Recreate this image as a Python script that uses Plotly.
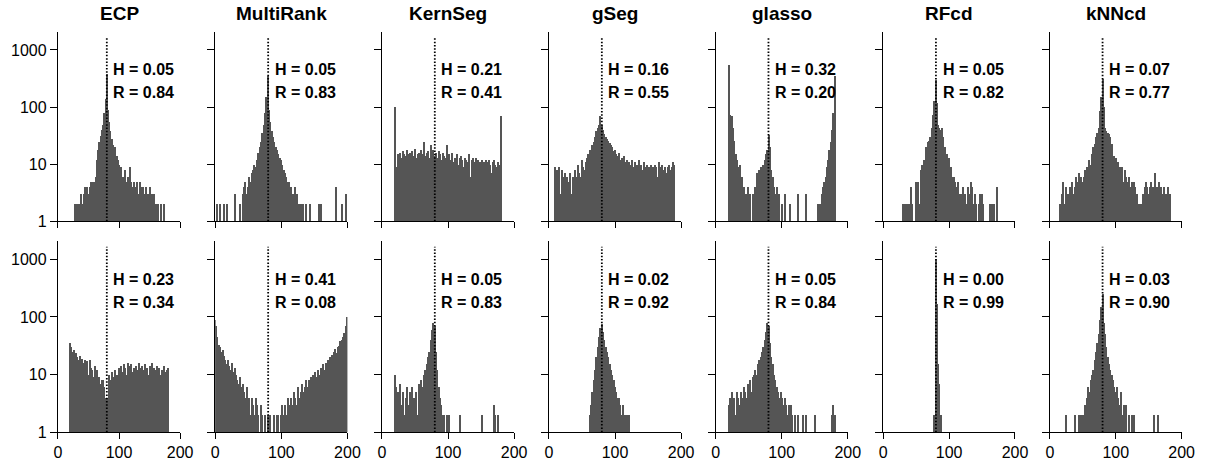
import plotly.graph_objects as go

# ---------------- data ----------------
methods = ["ECP", "MultiRank", "KernSeg", "gSeg", "glasso", "RFcd", "kNNcd"]
x_bins = list(range(0, 201, 2))          # estimated change-point locations (bins of width 2)
true_cp = 80

H_top = ["0.05", "0.05", "0.21", "0.16", "0.32", "0.05", "0.07"]
R_top = ["0.84", "0.83", "0.41", "0.55", "0.20", "0.82", "0.77"]
H_bot = ["0.23", "0.41", "0.05", "0.02", "0.05", "0.00", "0.03"]
R_bot = ["0.34", "0.08", "0.83", "0.92", "0.84", "0.99", "0.90"]

ecp_top = ([0] * 10 +
           [0, 0, 0, 0, 2, 0, 2, 2, 2, 3] +
           [2, 3, 4, 3, 4, 3, 4, 5, 4, 5] +
           [5, 6, 12, 18, 25, 31, 40, 50, 80, 140] +
           [390, 90, 55, 38, 28, 22, 18, 20, 14, 12] +
           [10, 7, 9, 6, 5, 8, 5, 6, 4, 9] +
           [5, 4, 5, 4, 3, 5, 3, 5, 4, 3] +
           [4, 3, 4, 2, 3, 4, 2, 3, 2, 3] +
           [2, 2, 2, 0, 2, 0, 0, 2, 0, 0] +
           [0] * 10 + [0])
multirank_top = ([0, 0, 2, 0, 2, 0, 0, 2, 0, 2] +
                 [0, 0, 0, 0, 0, 3, 0, 0, 0, 2] +
                 [0, 3, 4, 5, 3, 4, 6, 5, 7, 8] +
                 [10, 9, 12, 16, 20, 25, 35, 50, 80, 150] +
                 [360, 90, 55, 38, 30, 25, 20, 18, 15, 13] +
                 [12, 10, 8, 7, 6, 5, 5, 4, 4, 3] +
                 [3, 4, 3, 2, 2, 2, 0, 2, 0, 2] +
                 [0, 0, 2, 0, 0, 0, 0, 0, 0, 2] +
                 [2, 0, 0, 0, 0, 0, 0, 0, 0, 0] +
                 [0, 0, 4, 0, 0, 0, 2, 0, 0, 3] + [0])
kernseg_top = ([0] * 10 +
               [100, 9, 15, 14, 16, 13, 17, 15, 14, 18] +
               [15, 16, 9, 17, 14, 19, 13, 15, 16, 14] +
               [18, 15, 25, 14, 16, 17, 13, 22, 15, 18] +
               [14, 16, 13, 17, 15, 12, 16, 14, 13, 22] +
               [14, 15, 12, 16, 11, 13, 12, 15, 10, 13] +
               [14, 12, 9, 13, 12, 11, 15, 6, 12, 13] +
               [11, 13, 10, 12, 11, 8, 12, 11, 10, 12] +
               [11, 12, 10, 7, 11, 12, 10, 9, 11, 10] +
               [70, 0, 0, 0, 0, 0, 0, 0, 0, 0] + [0])
gseg_top = ([0, 0, 0, 0, 0, 9, 8, 5, 9, 3] +
            [8, 6, 7, 2, 6, 5, 7, 3, 6, 5] +
            [8, 6, 10, 7, 6, 12, 9, 8, 11, 13] +
            [15, 18, 16, 22, 25, 30, 38, 44, 50, 70] +
            [50, 40, 34, 30, 28, 26, 24, 22, 20, 17] +
            [18, 15, 14, 16, 12, 13, 12, 14, 11, 12] +
            [5, 11, 10, 12, 9, 11, 7, 10, 12, 9] +
            [10, 8, 11, 9, 10, 5, 9, 10, 8, 9] +
            [10, 9, 6, 11, 8, 9, 10, 8, 9, 7] +
            [9, 10, 8, 9, 11, 10, 0, 0, 0, 0] + [0])
glasso_top = ([0] * 10 +
              [560, 75, 70, 44, 26, 15, 12, 9, 10, 6] +
              [6, 4, 2, 3, 4, 2, 3, 0, 3, 2] +
              [4, 7, 3, 8, 9, 5, 10, 12, 15, 18] +
              [33, 20, 8, 6, 4, 3, 4, 2, 3, 0] +
              [2, 0, 3, 0, 0, 0, 2, 0, 0, 0] +
              [0, 0, 3, 0, 0, 0, 0, 0, 3, 0] +
              [0, 0, 0, 0, 0, 0, 0, 2, 2, 2] +
              [3, 4, 5, 6, 9, 12, 18, 25, 40, 80] +
              [360, 0, 0, 0, 0, 0, 0, 0, 0, 0] + [0])
rfcd_top = ([0] * 10 +
            [0, 0, 0, 0, 0, 2, 0, 2, 2, 0] +
            [2, 4, 2, 0, 0, 5, 4, 5, 2, 8] +
            [10, 12, 11, 20, 25, 26, 30, 44, 75, 130] +
            [300, 120, 50, 44, 40, 44, 30, 20, 15, 15] +
            [13, 8, 9, 6, 6, 5, 4, 5, 3, 3] +
            [2, 4, 3, 2, 0, 4, 3, 5, 4, 2] +
            [3, 2, 0, 2, 3, 3, 2, 0, 0, 0] +
            [0, 2, 0, 2, 2, 0, 0, 4, 0, 0] +
            [0] * 10 + [0])
knncd_top = ([0, 0, 0, 0, 0, 0, 0, 0, 2, 3] +
             [5, 2, 4, 2, 3, 4, 2, 5, 3, 4] +
             [6, 5, 7, 4, 6, 5, 6, 8, 9, 7] +
             [12, 10, 15, 20, 23, 30, 35, 44, 85, 150] +
             [320, 100, 44, 38, 36, 34, 30, 23, 12, 14] +
             [13, 9, 11, 9, 7, 9, 5, 8, 6, 5] +
             [6, 4, 5, 3, 5, 4, 3, 0, 2, 2] +
             [0, 3, 4, 5, 4, 3, 4, 5, 4, 3] +
             [7, 4, 3, 5, 4, 3, 3, 4, 3, 2] +
             [4, 3, 0, 0, 0, 0, 0, 0, 0, 0] + [0])

ecp_bot = ([0] * 10 +
           [35, 30, 25, 27, 22, 24, 20, 18, 21, 17] +
           [19, 16, 18, 15, 17, 10, 18, 13, 12, 9] +
           [14, 10, 12, 8, 9, 7, 8, 8, 6, 4] +
           [4, 2, 10, 8, 11, 7, 9, 12, 10, 8] +
           [13, 12, 14, 11, 15, 13, 10, 16, 12, 14] +
           [15, 11, 13, 6, 14, 12, 16, 11, 13, 14] +
           [12, 15, 11, 13, 10, 14, 12, 16, 9, 13] +
           [12, 14, 11, 13, 10, 12, 8, 14, 11, 12] +
           [13, 0, 0, 0, 0, 0, 0, 0, 0, 0] + [0])
multirank_bot = ([90, 70, 45, 33, 30, 25, 27, 21, 18, 15] +
                 [18, 14, 12, 16, 11, 13, 10, 8, 7, 9] +
                 [6, 7, 5, 4, 6, 3, 4, 2, 4, 3] +
                 [2, 4, 3, 2, 0, 3, 2, 0, 2, 0] +
                 [2, 0, 2, 0, 0, 2, 0, 2, 2, 0] +
                 [2, 3, 2, 3, 2, 4, 3, 2, 4, 3] +
                 [5, 4, 3, 6, 4, 5, 7, 5, 6, 8] +
                 [6, 8, 7, 9, 10, 8, 11, 9, 12, 10] +
                 [13, 11, 15, 12, 16, 14, 18, 20, 17, 22] +
                 [25, 28, 24, 30, 32, 38, 40, 45, 52, 70] + [100])
kernseg_bot = ([0] * 10 +
               [10, 6, 5, 2, 7, 3, 5, 2, 4, 6] +
               [3, 5, 2, 6, 4, 3, 5, 2, 7, 5] +
               [8, 6, 10, 12, 15, 20, 25, 40, 60, 80] +
               [70, 25, 12, 6, 4, 3, 2, 2, 0, 2] +
               [2, 2, 0, 0, 0, 0, 0, 0, 0, 2] +
               [0] * 10 +
               [0, 0, 0, 0, 0, 0, 2, 0, 0, 0] +
               [0, 0, 0, 0, 0, 3, 2, 0, 2, 0] +
               [0] * 10 + [0])
gseg_bot = ([0] * 30 +
            [0, 2, 3, 5, 8, 12, 20, 30, 45, 65] +
            [75, 55, 40, 30, 25, 20, 15, 12, 10, 8] +
            [6, 5, 4, 4, 3, 2, 3, 2, 2, 2] +
            [2, 2, 0, 0, 0, 0, 0, 0, 0, 0] +
            [0] * 40 + [0])
glasso_bot = ([0] * 10 +
              [3, 4, 5, 3, 4, 2, 5, 4, 3, 5] +
              [4, 6, 5, 4, 7, 6, 8, 5, 9, 10] +
              [12, 10, 15, 18, 20, 25, 30, 40, 55, 80] +
              [70, 35, 20, 15, 10, 8, 6, 5, 4, 5] +
              [4, 3, 4, 3, 2, 3, 2, 3, 2, 0] +
              [2, 0, 2, 0, 0, 0, 2, 0, 2, 0] +
              [0, 0, 0, 0, 0, 2, 0, 0, 0, 0] +
              [0, 0, 0, 0, 0, 0, 0, 0, 2, 3] +
              [2, 0, 0, 0, 0, 0, 0, 0, 0, 0] + [0])
rfcd_bot = ([0] * 30 +
            [0, 0, 0, 0, 0, 0, 0, 0, 0, 2] +
            [1000, 166, 15, 7, 2, 0, 0, 0, 0, 0] +
            [0] * 60 + [0])
knncd_bot = ([0] * 10 +
             [0, 0, 2, 0, 0, 0, 0, 0, 0, 2] +
             [0, 0, 2, 0, 2, 2, 0, 3, 4, 6] +
             [5, 8, 10, 12, 18, 25, 35, 50, 90, 150] +
             [250, 80, 50, 30, 20, 15, 12, 10, 8, 6] +
             [5, 6, 4, 3, 5, 2, 3, 2, 3, 0] +
             [2, 0, 2, 0, 2, 0, 0, 0, 0, 0] +
             [0, 0, 0, 0, 0, 0, 0, 0, 0, 2] +
             [0, 0, 2, 0, 0, 0, 0, 0, 0, 0] +
             [0] * 10 + [0])

counts_top = [ecp_top, multirank_top, kernseg_top, gseg_top, glasso_top, rfcd_top, knncd_top]
counts_bot = [ecp_bot, multirank_bot, kernseg_bot, gseg_bot, glasso_bot, rfcd_bot, knncd_bot]

# ---------------- layout ----------------
W, HGT = 1217, 466
x_px = [(54.7, 178.6), (214.3, 348.3), (383.3, 517.3), (552.7, 686.7),
        (721.7, 855.7), (891.7, 1025.3), (1060.7, 1194.3)]
y_px = [(32.3, 225.7), (245.7, 440.7)]
YMAX = 3.32
BAR_COLOR = "#555555"
FONT = "Liberation Sans, Arial, Helvetica, sans-serif"

fig = go.Figure()
layout = {}
annotations = []

for r, (counts_row, Hs, Rs) in enumerate([(counts_top, H_top, R_top), (counts_bot, H_bot, R_bot)]):
    for c in range(7):
        k = r * 7 + c + 1
        xa = "x" if k == 1 else f"x{k}"
        ya = "y" if k == 1 else f"y{k}"
        counts = counts_row[c]
        xs = [xv for xv, v in zip(x_bins, counts) if v >= 2]
        ys = [v for v in counts if v >= 2]
        fig.add_trace(go.Bar(x=xs, y=ys, width=2, xaxis=xa, yaxis=ya,
                             marker=dict(color=BAR_COLOR, line=dict(width=0)),
                             showlegend=False, hoverinfo="x+y"))
        fig.add_trace(go.Scatter(x=[true_cp, true_cp], y=[1, 10 ** 3.22], mode="lines",
                                 xaxis=xa, yaxis=ya, showlegend=False, hoverinfo="skip",
                                 line=dict(color="black", width=1.8, dash="1.5px,1.8px")))
        x0, x1 = x_px[c]
        y0, y1 = y_px[r]
        layout["xaxis" if k == 1 else f"xaxis{k}"] = dict(
            domain=[x0 / W, x1 / W], range=[0, 200], anchor=ya,
            showline=True, linecolor="black", linewidth=1.2,
            ticks="outside", ticklen=6, tickwidth=1.2, tickcolor="black",
            tickvals=[0, 100, 200], showticklabels=(r == 1),
            tickfont=dict(family=FONT, size=16, color="black"),
            showgrid=False, zeroline=False, fixedrange=True)
        layout["yaxis" if k == 1 else f"yaxis{k}"] = dict(
            domain=[1 - y1 / HGT, 1 - y0 / HGT], type="log", range=[0, YMAX], anchor=xa,
            showline=True, linecolor="black", linewidth=1.2,
            ticks="outside", ticklen=7, tickwidth=1.2, tickcolor="black",
            tickvals=[1, 10, 100, 1000], ticktext=["1", "10", "100", "1000"],
            showticklabels=(c == 0),
            tickfont=dict(family=FONT, size=16, color="black"),
            showgrid=False, zeroline=False, fixedrange=True)
        annotations.append(dict(xref=xa, yref=ya, x=87, y=2.65, xanchor="left", yanchor="middle",
                                text=f"<b>H = {Hs[c]}</b>", showarrow=False,
                                font=dict(family=FONT, size=16, color="black")))
        annotations.append(dict(xref=xa, yref=ya, x=87, y=2.26, xanchor="left", yanchor="middle",
                                text=f"<b>R = {Rs[c]}</b>", showarrow=False,
                                font=dict(family=FONT, size=16, color="black")))
        if r == 0:
            annotations.append(dict(xref="paper", yref="paper", x=(x0 + x1) / 2 / W,
                                    y=1 - 14 / HGT, xanchor="center", yanchor="middle",
                                    text=f"<b>{methods[c]}</b>", showarrow=False,
                                    font=dict(family=FONT, size=19, color="black")))

fig.update_layout(**layout)
fig.update_layout(width=W, height=HGT, margin=dict(l=0, r=0, t=0, b=0),
                  paper_bgcolor="white", plot_bgcolor="white",
                  bargap=0, annotations=annotations, showlegend=False)

fig.write_html("out.html", config={"displayModeBar": False},
               post_script="document.body.style.margin='0px';document.body.style.overflow='hidden';")
